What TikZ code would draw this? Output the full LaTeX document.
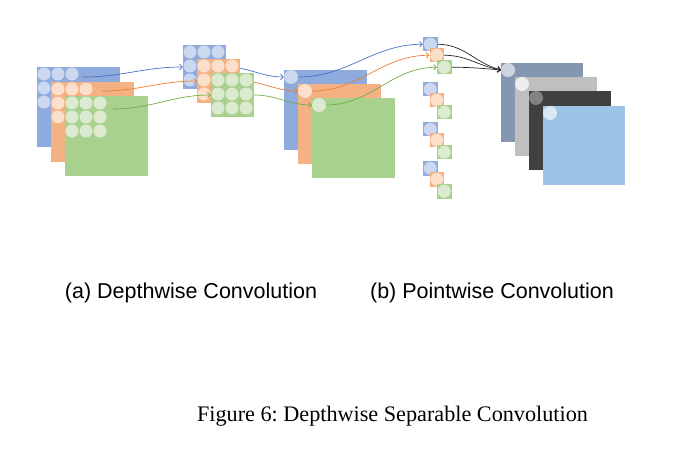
\documentclass[tikz,border=0pt]{standalone}
\usepackage{fontspec}
\setmainfont{Liberation Serif}
\newfontfamily\labelfont{Liberation Sans}
\usetikzlibrary{arrows.meta}
\frenchspacing
\definecolor{bSq}{HTML}{8FAADC}
\definecolor{bCi}{HTML}{CCD8F0}
\definecolor{oSq}{HTML}{F4B183}
\definecolor{oCi}{HTML}{FBDFCB}
\definecolor{gSq}{HTML}{A9D18E}
\definecolor{gCi}{HTML}{DCEBD0}
\definecolor{bArr}{HTML}{4472C4}
\definecolor{oArr}{HTML}{ED7D31}
\definecolor{gArr}{HTML}{70AD47}
\definecolor{r1Sq}{HTML}{8497B0}
\definecolor{r1Ci}{HTML}{CDD5E1}
\definecolor{r2Sq}{HTML}{BFBFBF}
\definecolor{r2Ci}{HTML}{EDEDED}
\definecolor{r3Sq}{HTML}{404040}
\definecolor{r3Ci}{HTML}{828282}
\definecolor{r4Sq}{HTML}{9DC3E6}
\definecolor{r4Ci}{HTML}{DAE8F6}
\tikzset{
  bigsq/.style={anchor=north west, inner sep=0pt, outer sep=0pt, draw=none, minimum width=83pt, minimum height=80pt},
  filt/.style={anchor=north west, inner sep=0pt, outer sep=0pt, draw=none, minimum width=43pt, minimum height=44pt},
  vec/.style={anchor=north west, inner sep=0pt, outer sep=0pt, draw=none, minimum size=14.5pt},
  dot/.style={circle, inner sep=0pt, outer sep=0pt, draw=none, minimum size=13pt},
  bigdot/.style={circle, inner sep=0pt, outer sep=0pt, draw=none, minimum size=14pt},
  conn/.style={line width=0.7pt, -{Straight Barb[length=3pt,width=5.5pt]}},
  lab/.style={anchor=base, inner sep=0pt, font=\labelfont\fontsize{21.5}{25}\selectfont},
  figcap/.style={anchor=base, inner sep=0pt, font=\fontsize{22.2}{27}\selectfont}
}
\begin{document}
\begin{tikzpicture}[x=1pt,y=-1pt]
\useasboundingbox (0,0) rectangle (679,457);
% ---- input feature maps
\node[bigsq, fill=bSq] (iB) at (37,67) {};
\foreach \i in {0,1,2} \foreach \j in {0,1,2}
  \node[dot, fill=bCi] (iB-\i-\j) at (44+14*\i,74+14*\j) {};
\node[bigsq, fill=oSq] (iO) at (51,82) {};
\foreach \i in {0,1,2} \foreach \j in {0,1,2}
  \node[dot, fill=oCi] (iO-\i-\j) at (58+14*\i,89+14*\j) {};
\node[bigsq, fill=gSq] (iG) at (65,96) {};
\foreach \i in {0,1,2} \foreach \j in {0,1,2}
  \node[dot, fill=gCi] (iG-\i-\j) at (72+14*\i,103+14*\j) {};
% ---- depthwise output maps
\node[bigsq, fill=bSq] (mB) at (284,70) {};
\node[bigdot, fill=bCi] (mBc) at (291,77) {};
\node[bigsq, fill=oSq] (mO) at (298,84) {};
\node[bigdot, fill=oCi] (mOc) at (305,91) {};
\node[bigsq, fill=gSq] (mG) at (312,98) {};
\node[bigdot, fill=gCi] (mGc) at (319,105) {};
% ---- filters and their connectors
\coordinate (sB) at (83,77);
\coordinate (sO) at (102,91);
\coordinate (sG) at (113,109);
\node[filt, fill=bSq] (fB) at (183,45) {};
\foreach \i in {0,1,2} \foreach \j in {0,1,2}
  \node[dot, fill=bCi] (fB-\i-\j) at (190+14*\i,52+14*\j) {};
\draw[conn, bArr] (sB) to[out=0,in=180] (fB.west);
\draw[conn, bArr] (fB.east) to[out=0,in=180] (mBc.west);
\node[filt, fill=oSq] (fO) at (197,59) {};
\foreach \i in {0,1,2} \foreach \j in {0,1,2}
  \node[dot, fill=oCi] (fO-\i-\j) at (204+14*\i,66+14*\j) {};
\draw[conn, oArr] (sO) to[out=0,in=180] (fO.west);
\draw[conn, oArr] (fO.east) to[out=0,in=180] (mOc.west);
\node[filt, fill=gSq] (fG) at (211,73) {};
\foreach \i in {0,1,2} \foreach \j in {0,1,2}
  \node[dot, fill=gCi] (fG-\i-\j) at (218+14*\i,80+14*\j) {};
\draw[conn, gArr] (sG) to[out=0,in=180] (fG.west);
\draw[conn, gArr] (fG.east) to[out=0,in=180] (mGc.west);
% ---- pointwise vectors
\foreach \k/\g in {1/37,2/82,3/122,4/161} {
  \node[vec, fill=bSq] (vB\k) at (423,\g) {};
  \node[dot, fill=bCi] at (vB\k.center) {};
  \node[vec, fill=oSq] (vO\k) at (429.5,\g+11) {};
  \node[dot, fill=oCi] at (vO\k.center) {};
  \node[vec, fill=gSq] (vG\k) at (437,\g+23) {};
  \node[dot, fill=gCi] at (vG\k.center) {};
}
\draw[conn, bArr] (mBc.east) to[out=0,in=180] (vB1.west);
\draw[conn, oArr] (mOc.east) to[out=0,in=180] (vO1.west);
\draw[conn, gArr] (mGc.east) to[out=0,in=180] (vG1.west);
% ---- pointwise outputs
\node[bigsq, fill=r1Sq, minimum width=82pt, minimum height=79pt] (r1) at (501,63) {};
\node[bigdot, fill=r1Ci] (r1c) at (508,70) {};
\node[bigsq, fill=r2Sq, minimum width=82pt, minimum height=79pt] (r2) at (515,77) {};
\node[bigdot, fill=r2Ci] (r2c) at (522,84) {};
\node[bigsq, fill=r3Sq, minimum width=82pt, minimum height=79pt] (r3) at (529,91) {};
\node[bigdot, fill=r3Ci] (r3c) at (536,98) {};
\node[bigsq, fill=r4Sq, minimum width=82pt, minimum height=79pt] (r4) at (543,106) {};
\node[bigdot, fill=r4Ci] (r4c) at (550,113) {};
\draw[conn, black!85] (vB1.east) to[out=0,in=165] (r1c.west);
\draw[conn, black!85] (vO1.east) to[out=0,in=170] (r1c.west);
\draw[conn, black!85] (vG1.east) to[out=0,in=175] (r1c.west);
% ---- labels
\node[lab] (la) at (191,298) {(a) Depthwise Convolution};
\node[lab] (lb) at (492,298) {(b) Pointwise Convolution};
\node[figcap] (cp) at (392.5,421) {Figure 6: Depthwise Separable Convolution};
\end{tikzpicture}
\end{document}
